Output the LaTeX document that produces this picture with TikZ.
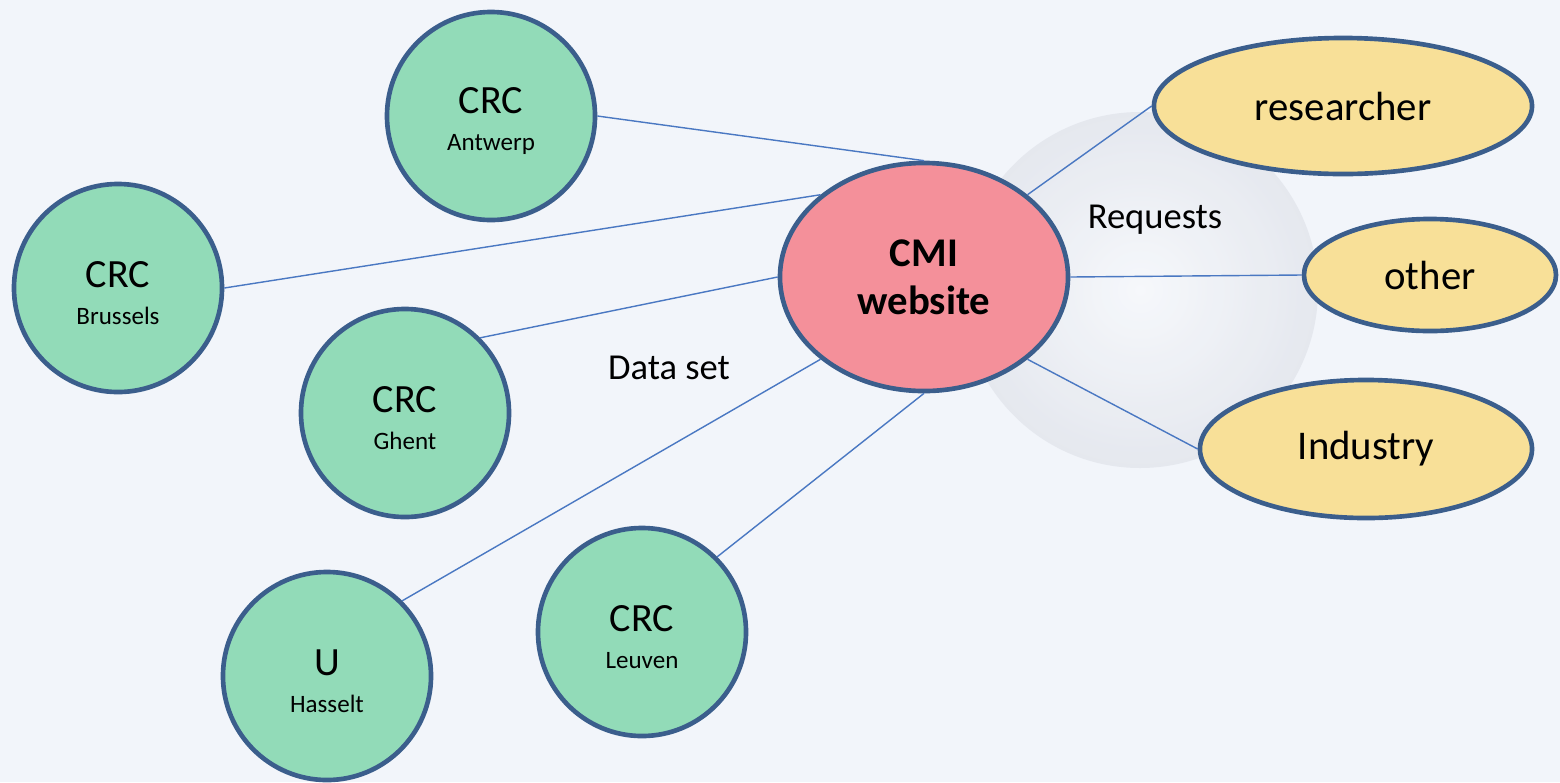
\documentclass[tikz,border=0pt]{standalone}
\usepackage{fontspec}
\setmainfont{Carlito}
\usetikzlibrary{positioning,shapes.geometric}
\definecolor{bgblue}{HTML}{F2F5FA}
\definecolor{ballgrey}{HTML}{E2E5EC}
\definecolor{crcgreen}{HTML}{92DBB8}
\definecolor{cmipink}{HTML}{F4909A}
\definecolor{useryellow}{HTML}{F8E098}
\definecolor{edgeblue}{HTML}{3B5E8C}
\definecolor{linkblue}{HTML}{4A78C2}
\tikzset{site/.style={circle, draw=edgeblue, line width=3.3pt, fill=crcgreen, minimum size=5.2cm, inner sep=0pt, align=center, font=\fontsize{28.5}{34}\selectfont}}
\tikzset{user/.style={ellipse, draw=edgeblue, line width=3.3pt, fill=useryellow, inner sep=0pt, font=\fontsize{29}{34}\selectfont}}
\tikzset{flow/.style={font=\fontsize{26}{30}\selectfont}}
\newcommand{\town}[1]{{\fontsize{17.8}{20}\selectfont #1}}

\begin{document}
\begin{tikzpicture}[x=0.025cm, y=-0.025cm]
	\fill[bgblue] (0,0) rectangle (1560,782);
	% faint ball behind the requests
	\shade[inner color=bgblue!60!white, outer color=ballgrey, opacity=0.8] (1140,290) circle (178);
	
	\node[site] (Ant) at (491,116) {\rule{0pt}{26pt}CRC\\[-8pt]\town{Antwerp}};
	\node[site] (Bru) at (118,288) {\rule{0pt}{26pt}CRC\\[-8pt]\town{Brussels}};
	\node[site] (Ghe) at (405,413) {\rule{0pt}{26pt}CRC\\[-8pt]\town{Ghent}};
	\node[site] (Has) at (327,676) {\rule{0pt}{26pt}U\\[-8pt]\town{Hasselt}};
	\node[site] (Leu) at (642,632) {\rule{0pt}{26pt}CRC\\[-8pt]\town{Leuven}};
	
	\node[ellipse, draw=edgeblue, line width=3.3pt, fill=cmipink, minimum width=7.2cm, minimum height=5.7cm, inner sep=0pt, align=center, font=\bfseries\fontsize{29}{34}\selectfont] (CMI) at (924,277) {CMI\\website};
	
	\node[user, minimum width=9.45cm, minimum height=3.4cm] (Res) at (1343,106) {researcher};
	\node[user, minimum width=6.3cm, minimum height=2.8cm] (Oth) at (1430,275) {other};
	\node[user, minimum width=8.3cm, minimum height=3.45cm] (Ind) at (1366,449) {Industry};
	
	\node[flow] (req) at (1155,220) {Requests};
	\node[flow] (data) at (669,368) {Data set};
	
	\begin{scope}[draw=linkblue, line width=1pt]
		\draw (Ant.east) -- (CMI.north);
		\draw (Bru.east) -- (CMI.north west);
		\draw (Ghe.north east) -- (CMI.west);
		\draw (Has.north east) -- (CMI.south west);
		\draw (Leu.north east) -- (CMI.south);
		\draw (CMI.north east) -- (Res.west);
		\draw (CMI.east) -- (Oth.west);
		\draw (CMI.south east) -- (Ind.west);
	\end{scope}
\end{tikzpicture}
\end{document}
